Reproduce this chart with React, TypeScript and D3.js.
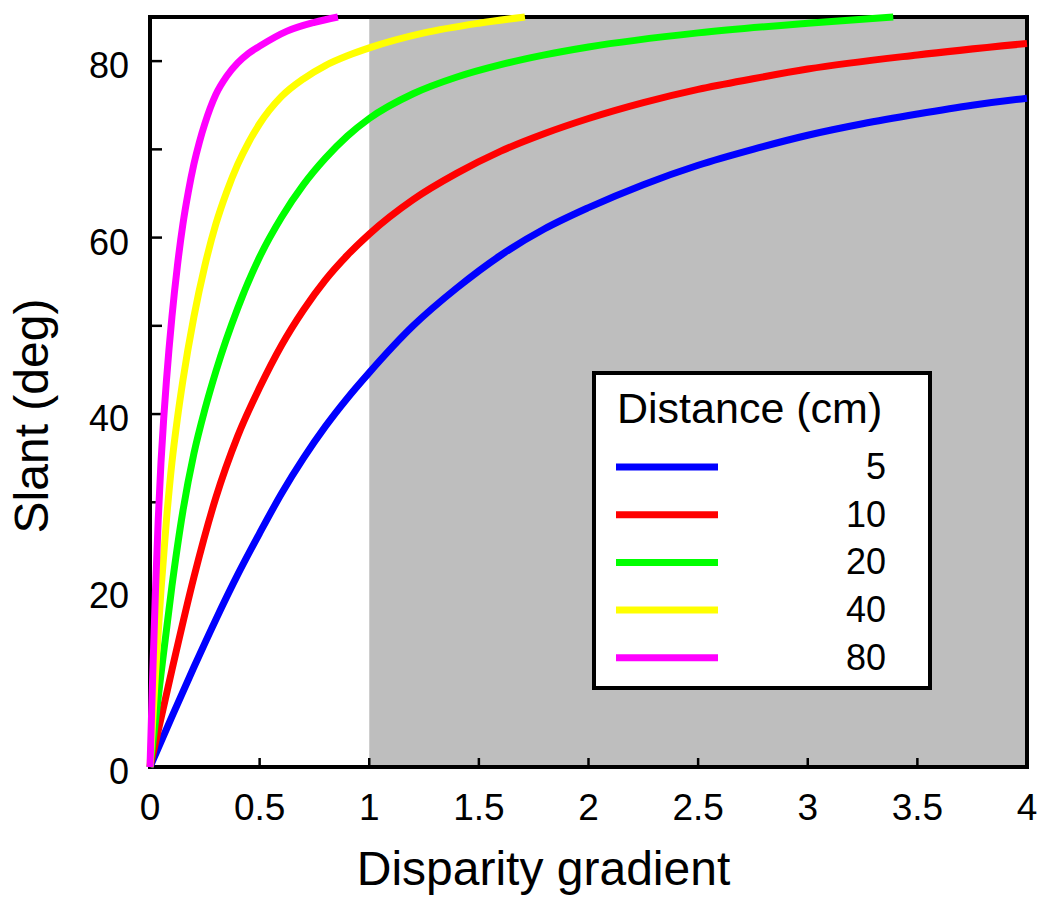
import * as d3 from 'd3';

// slant (deg) vs disparity gradient, one list per viewing distance
const curve5: [number, number][] = [
  [0, 0], [0.1, 5.7], [0.2, 11.3], [0.3, 16.7], [0.4, 21.8], [0.5, 26.5], [0.6, 31],
  [0.7, 35], [0.8, 38.6], [0.9, 41.8], [1.0, 44.7], [1.2, 50], [1.4, 54.3], [1.6, 58],
  [1.8, 61], [2.0, 63.4], [2.25, 66], [2.5, 68.2], [2.75, 70], [3.0, 71.6], [3.25, 72.9],
  [3.5, 74], [3.75, 75], [4.0, 75.8],
];
const curve10: [number, number][] = [
  [0, 0], [0.1, 11], [0.2, 21.5], [0.3, 30.5], [0.4, 37.5], [0.5, 43], [0.6, 47.8],
  [0.7, 51.8], [0.8, 55.2], [0.9, 58], [1.0, 60.4], [1.2, 64.3], [1.4, 67.3], [1.6, 69.8],
  [1.8, 71.8], [2.0, 73.5], [2.25, 75.3], [2.5, 76.8], [2.75, 78], [3.0, 79.1],
  [3.5, 80.7], [4.0, 82],
];
const curve20: [number, number][] = [
  [0, 0], [0.05, 10.5], [0.1, 20.5], [0.15, 29], [0.2, 35.5], [0.25, 40.5], [0.3, 44.8],
  [0.4, 52], [0.5, 57.8], [0.6, 62.3], [0.7, 66], [0.8, 69], [0.9, 71.5], [1.0, 73.5],
  [1.2, 76.3], [1.4, 78.2], [1.6, 79.6], [1.8, 80.7], [2.0, 81.6], [2.5, 83.2],
  [3.0, 84.3], [3.39, 85],
];
const curve40: [number, number][] = [
  [0, 0], [0.025, 10.5], [0.05, 20], [0.075, 28], [0.1, 34.5], [0.125, 39.5], [0.15, 43.8],
  [0.2, 51], [0.25, 56.8], [0.3, 61.5], [0.35, 65.2], [0.4, 68.3], [0.45, 70.8], [0.5, 72.9],
  [0.6, 76], [0.7, 78], [0.8, 79.5], [0.9, 80.6], [1.0, 81.5], [1.25, 83.2], [1.5, 84.3],
  [1.71, 85],
];
const curve80: [number, number][] = [
  [0, 0], [0.0125, 10.5], [0.025, 20], [0.0375, 28], [0.05, 34.5], [0.0625, 39.5],
  [0.075, 43.8], [0.1, 51], [0.125, 56.8], [0.15, 61.5], [0.175, 65.2], [0.2, 68.3],
  [0.225, 70.8], [0.25, 72.9], [0.3, 76.2], [0.35, 78.3], [0.4, 79.8], [0.45, 80.9],
  [0.5, 81.7], [0.625, 83.4], [0.75, 84.4], [0.857, 85],
];

const distances = ['5', '10', '20', '40', '80'];
const curves = [curve5, curve10, curve20, curve40, curve80];
const colors = ['#0000ff', '#ff0000', '#00ff00', '#ffff00', '#ff00ff'];

const xTicks = [0, 0.5, 1, 1.5, 2, 2.5, 3, 3.5, 4];
const yTicks = [0, 10, 20, 30, 40, 50, 60, 70, 80];
const yLabels = [0, 20, 40, 60, 80];
const shadeFrom = 1;

const font = '"Liberation Sans", Arial, Helvetica, sans-serif';

export default function App() {
  const width = 1050;
  const height = 913;
  const left = 150, right = 1027, top = 17, bottom = 767;

  const x = d3.scaleLinear().domain([0, 4]).range([left, right]);
  const y = d3.scaleLinear().domain([0, 85]).range([bottom, top]);

  const line = d3.line<[number, number]>()
    .x(d => x(d[0]))
    .y(d => y(d[1]))
    .curve(d3.curveMonotoneX);

  // legend
  const lg = { x: 594, y: 373, w: 336, h: 315 };
  const rowY = (i: number) => 467 + i * 47.7;

  return (
    <svg width={width} height={height} style={{ position: 'absolute', left: 0, top: 0, background: '#fff' }}>
      <rect x={x(shadeFrom)} y={top} width={x(4) - x(shadeFrom)} height={bottom - top} fill="#bebebe" />

      {/* frame */}
      <rect x={left} y={top} width={right - left} height={bottom - top} fill="none" stroke="#000" strokeWidth={4} />

      {yTicks.map(t => (
        <line key={'yt' + t} x1={left} x2={left + 12} y1={y(t)} y2={y(t)} stroke="#000" strokeWidth={2.5} />
      ))}
      {xTicks.map(t => (
        <line key={'xt' + t} x1={x(t)} x2={x(t)} y1={bottom} y2={bottom - 9} stroke="#000" strokeWidth={2.5} />
      ))}

      {curves.map((c, i) => (
        <path key={'c' + i} d={line(c) || ''} fill="none" stroke={colors[i]} strokeWidth={7} />
      ))}

      {yLabels.map(t => (
        <text key={'yl' + t} x={129} y={y(t) + 17} textAnchor="end" fontFamily={font} fontSize={36}>{t}</text>
      ))}
      {xTicks.map(t => (
        <text key={'xl' + t} x={x(t)} y={820} textAnchor="middle" fontFamily={font} fontSize={37}>{t}</text>
      ))}

      <text x={(left + right) / 2 - 45} y={885} textAnchor="middle" fontFamily={font} fontSize={48}>Disparity gradient</text>
      <text transform={`translate(48, 416) rotate(-90)`} textAnchor="middle" fontFamily={font} fontSize={48}>Slant (deg)</text>

      <rect x={lg.x} y={lg.y} width={lg.w} height={lg.h} fill="#fff" stroke="#000" strokeWidth={4} />
      <text x={617} y={423} fontFamily={font} fontSize={43}>Distance (cm)</text>
      {distances.map((d, i) => (
        <g key={'lg' + d}>
          <line x1={616} x2={718} y1={rowY(i)} y2={rowY(i)} stroke={colors[i]} strokeWidth={7} />
          <text x={886} y={rowY(i) + 12} textAnchor="end" fontFamily={font} fontSize={36}>{d}</text>
        </g>
      ))}
    </svg>
  );
}
